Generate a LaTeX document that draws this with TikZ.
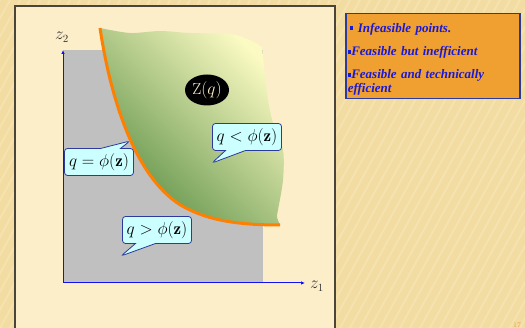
\documentclass[tikz,border=0pt]{standalone}
\usepackage{fontspec}
\newfontfamily\legendfont{Liberation Serif}
\usetikzlibrary{arrows.meta,positioning,shapes.geometric,shapes.callouts}
\definecolor{slidebg}{HTML}{F2DCA2}
\definecolor{slidestripe}{HTML}{F9EBC4}
\definecolor{panelbg}{HTML}{FDEECA}
\definecolor{panelrule}{HTML}{4A4538}
\definecolor{feasgray}{HTML}{C0C0C0}
\definecolor{axisblue}{HTML}{1010F0}
\definecolor{frontorange}{HTML}{FF8000}
\definecolor{zdark}{HTML}{5F9249}
\definecolor{zlight}{HTML}{FAFAC2}
\definecolor{calloutfill}{HTML}{CCFFFF}
\definecolor{calloutrule}{HTML}{2B3A9E}
\definecolor{legendfill}{HTML}{F0A030}
\definecolor{legendblue}{HTML}{1A1AD6}
\definecolor{pagenum}{HTML}{E8A448}
\newcommand\sqbullet{\rule[2pt]{3.5pt}{4pt}}

\begin{document}
\begin{tikzpicture}[x=1pt, y=1pt,
      axis/.style={-{Latex[length=4pt,width=3.5pt]}, axisblue, line width=1pt},
      lbl/.style={font=\fontsize{16}{18}\selectfont, text=black!80},
      callbox/.style={rectangle callout, draw=calloutrule, fill=calloutfill, line width=0.8pt,
                      rounded corners=3pt, callout pointer width=20pt, minimum width=69pt,
                      minimum height=27pt, inner sep=1.5pt, font=\fontsize{17}{19}\selectfont},
      legend/.style={draw=calloutrule, fill=legendfill, line width=1.5pt, anchor=north west,
                     minimum width=174pt, minimum height=85pt, text width=170pt, inner sep=2pt,
                     align=left, text=legendblue, font=\legendfont\bfseries\itshape\fontsize{13}{14}\selectfont}]
    \useasboundingbox (0,0) rectangle (525,328);
    % slide background
    \fill[slidebg] (0,0) rectangle (525,328);
    \begin{scope}
      \clip (0,0) rectangle (525,328);
      \foreach \i in {-200,-190,...,525} \draw[slidestripe, line width=2pt, opacity=0.4] (\i,0) -- ++(180,328);
    \end{scope}
    \draw[panelrule, fill=panelbg, line width=1.5pt] (15,-5) rectangle (335,322);
    % feasible set
    \fill[feasgray] (63,45) rectangle (263,278);
    \shade[top color=zlight, bottom color=zdark, shading angle=-45]
      (100,300) .. controls (112,220) and (140,140) .. (190,118) .. controls (215,106) and (245,103) .. (280,103)
      -- plot[smooth] coordinates {(280,103) (277,111) (278,118) (283,148) (283,178) (273,205) (268,228) (265,253) (262,281)}
      -- plot[smooth] coordinates {(262,281) (250,288) (230,294) (190,295) (160,297) (130,295) (100,300)} -- cycle;
    \draw[frontorange, line width=3pt]
      (100,300) .. controls (112,220) and (140,140) .. (190,118) .. controls (215,106) and (245,103) .. (280,103);
    % axes
    \coordinate (o) at (63,45);
    \coordinate (z1end) at (305,45);
    \coordinate (z2end) at (63,278);
    \draw[axis] (o) -- (z1end);
    \draw[axis] (o) -- (z2end);
    \node[lbl] (z1) at (317,42) {$z_1$};
    \node[lbl] (z2) at (62,291) {$z_2$};
    % labels
    \node[ellipse, fill=black, minimum width=44pt, minimum height=31pt, inner sep=0pt,
          text=panelbg, font=\fontsize{16}{18}\selectfont] (zq) at (207,238) {$\mathrm{Z}(q)$};
    \node[callbox, callout absolute pointer={(212,165)}] (lt) at (247,191) {$q<\phi(\mathbf{z})$};
    \node[callbox, callout absolute pointer={(130,187)}] (eq) at (99,166) {$q=\phi(\mathbf{z})$};
    \node[callbox, callout absolute pointer={(121,72)}] (gt) at (157,98) {$q>\phi(\mathbf{z})$};
    % legend
    \node[legend] (key) at (345,315)
      {\rule{0pt}{15.5pt}\,\sqbullet\ Infeasible points.\\[9.5pt]
       \sqbullet Feasible but inefficient\\[9pt]
       \sqbullet Feasible and technically\\efficient};
    \node[font=\fontsize{7}{8}\selectfont, text=pagenum] (page) at (517,3) {17};
  \end{tikzpicture}
\end{document}
